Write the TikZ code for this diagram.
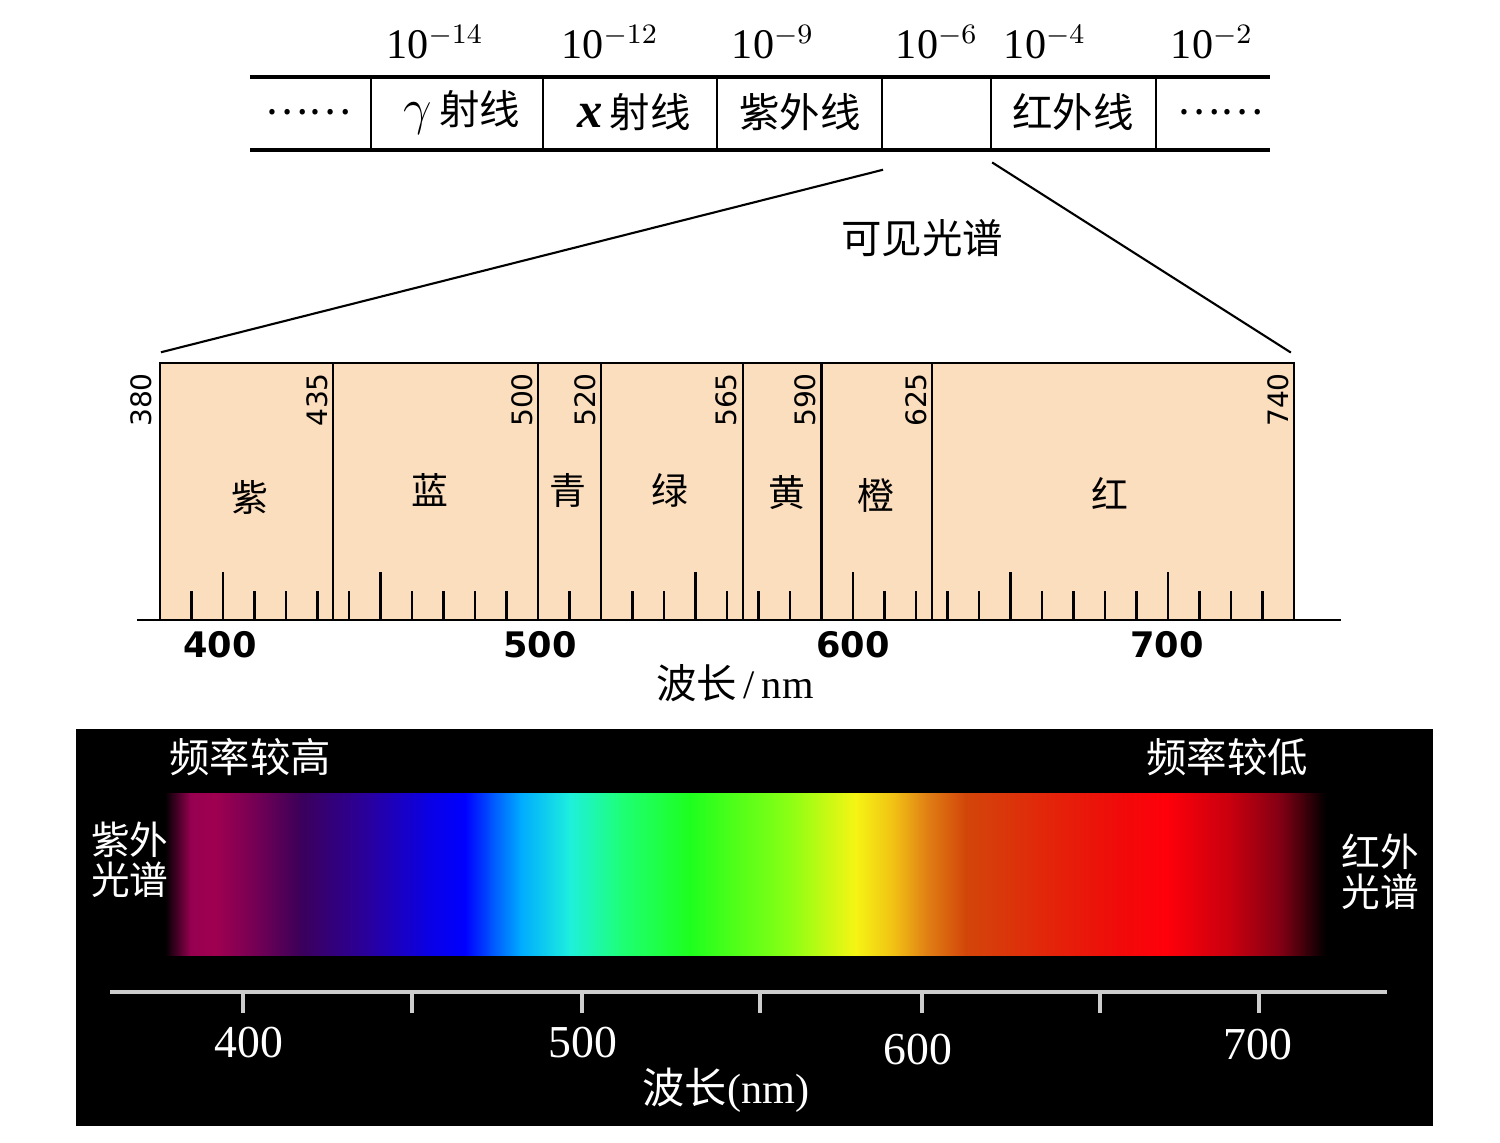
\documentclass[tikz,border=0pt]{standalone}
\usepackage{fontspec}
\setmainfont{Liberation Serif}
\setsansfont{DejaVu Sans}
\newfontfamily\cjk{Noto Sans CJK SC}
\definecolor{peach}{RGB}{251,222,190}
\definecolor{axisgray}{RGB}{205,205,205}
\definecolor{sp0}{RGB}{0,0,0}
\definecolor{sp1}{RGB}{150,0,80}
\definecolor{sp2}{RGB}{160,0,80}
\definecolor{sp3}{RGB}{110,0,85}
\definecolor{sp4}{RGB}{60,0,90}
\definecolor{sp5}{RGB}{40,0,160}
\definecolor{sp6}{RGB}{10,0,230}
\definecolor{sp7}{RGB}{0,0,255}
\definecolor{sp8}{RGB}{0,80,255}
\definecolor{sp9}{RGB}{0,170,255}
\definecolor{sp10}{RGB}{30,240,220}
\definecolor{sp11}{RGB}{30,255,120}
\definecolor{sp12}{RGB}{30,255,30}
\definecolor{sp13}{RGB}{140,255,20}
\definecolor{sp14}{RGB}{245,245,20}
\definecolor{sp15}{RGB}{240,190,20}
\definecolor{sp16}{RGB}{225,130,20}
\definecolor{sp17}{RGB}{210,70,10}
\definecolor{sp18}{RGB}{225,40,10}
\definecolor{sp19}{RGB}{240,10,10}
\definecolor{sp20}{RGB}{255,0,10}
\definecolor{sp21}{RGB}{200,0,15}
\definecolor{sp22}{RGB}{130,0,20}
\definecolor{sp23}{RGB}{60,0,10}

\begin{document}
\begin{tikzpicture}[x=0.01cm,y=-0.01cm,line cap=rect,
  cell/.style={font=\cjk\fontsize{11.5}{14}\selectfont},
  expo/.style={font=\fontsize{12}{14}\selectfont},
  colname/.style={font=\cjk\fontsize{10.5}{12}\selectfont},
  vnum/.style={rotate=90,font=\sffamily\fontsize{8}{9}\selectfont},
  axnum/.style={font=\sffamily\bfseries\fontsize{10}{12}\selectfont},
  wtext/.style={text=white,font=\cjk\fontsize{11.5}{14}\selectfont},
  wnum/.style={text=white,font=\fontsize{13}{15}\selectfont}]
\useasboundingbox (0,0) rectangle (1500,1142);

% electromagnetic band
\draw[line width=1.1pt] (252,77) -- (1268,77) (252,150) -- (1268,150);
\foreach \x in {371,543,717,882,991,1156}
  \draw[line width=0.6pt] (\x,77) -- (\x,150);
\node[expo] (e1) at (435,42) {10$^{-14}$};
\node[expo] (e2) at (610,42) {10$^{-12}$};
\node[expo] (e3) at (773,42) {10$^{-9}$};
\node[expo] (e4) at (937,42) {10$^{-6}$};
\node[expo] (e5) at (1045,42) {10$^{-4}$};
\node[expo] (e6) at (1212,42) {10$^{-2}$};
\node[cell] (c1) at (308,112) {……};
\node[cell] (c2) at (462,112) {{\rmfamily\Large$\gamma$}\,射线};
\node[cell] (c3) at (634,112) {{\rmfamily\bfseries\itshape\Large x}\,射线};
\node[cell] (c4) at (800,112) {紫外线};
\node[cell] (c5) at (1073,112) {红外线};
\node[cell] (c6) at (1220,112) {……};

% zoom lines
\coordinate (z1) at (882,170);
\coordinate (z2) at (162,352);
\coordinate (z3) at (993,163);
\coordinate (z4) at (1290,352);
\draw[line width=0.6pt] (z1) -- (z2);
\draw[line width=0.6pt] (z3) -- (z4);
\node[cell] (vis) at (922,238) {可见光谱};

% visible colour table
\fill[peach] (160,363) rectangle (1294,620);
\draw[line width=0.7pt] (160,620) -- (160,363) -- (1294,363) -- (1294,620);
\draw[line width=0.7pt] (138,620) -- (1340,620);
\foreach \w in {435,500,520,565,590,625}
  \draw[line width=0.6pt] ({160+(\w-380)*3.15},363) -- ({160+(\w-380)*3.15},620);
\foreach \w in {390,400,...,730}{
  \pgfmathsetmacro{\h}{mod(\w,50)==0 ? 47 : 28}
  \draw[line width=0.6pt] ({160+(\w-380)*3.15},620) -- ({160+(\w-380)*3.15},{620-\h});
}
\node[vnum] (n380) at (141,400) {380};
\foreach \w in {435,500,520,565,590,625,740}
  \node[vnum] (n\w) at ({160+(\w-380)*3.15-16},400) {\w};
\node[colname] (k1) at (250,497) {紫};
\node[colname] (k2) at (430,490) {蓝};
\node[colname] (k3) at (568,490) {青};
\node[colname] (k4) at (670,490) {绿};
\node[colname] (k5) at (787,493) {黄};
\node[colname] (k6) at (876,495) {橙};
\node[colname] (k7) at (1110,493) {红};
\node[axnum] (a400) at (220,645) {400};
\node[axnum] (a500) at (540,645) {500};
\node[axnum] (a600) at (853,645) {600};
\node[axnum] (a700) at (1167,645) {700};
\node[cell] (lam) at (735,683) {波长{\rmfamily\,/\,nm}};

% spectrum on black
\fill[black] (76,729) rectangle (1433,1126);
\foreach \xa/\ca/\xb/\cb in {165/sp0/190/sp1,190/sp1/215/sp2,215/sp2/260/sp3,
    260/sp3/300/sp4,300/sp4/370/sp5,370/sp5/430/sp6,430/sp6/465/sp7,
    465/sp7/490/sp8,490/sp8/520/sp9,520/sp9/570/sp10,570/sp10/620/sp11,
    620/sp11/690/sp12,690/sp12/790/sp13,790/sp13/855/sp14,855/sp14/895/sp15,
    895/sp15/925/sp16,925/sp16/965/sp17,965/sp17/1040/sp18,1040/sp18/1120/sp19,
    1120/sp19/1165/sp20,1165/sp20/1230/sp21,1230/sp21/1280/sp22,
    1280/sp22/1305/sp23,1305/sp23/1325/sp0}
  \shade[left color=\ca,right color=\cb] (\xa,793) rectangle ({\xb+0.8},955);
\node[wtext] (hi) at (250,757) {频率较高};
\node[wtext] (lo) at (1227,757) {频率较低};
\node[wtext,font=\cjk\fontsize{11}{11.5}\selectfont,align=center] (uv) at (130,860) {紫外\\光谱};
\node[wtext,font=\cjk\fontsize{11}{11.5}\selectfont,align=center] (ir) at (1380,872) {红外\\光谱};
\draw[axisgray,line width=1.2pt] (112,992) -- (1385,992);
\foreach \x in {243,412,582,760,922,1100,1259}
  \draw[axisgray,line width=1.1pt] (\x,993) -- (\x,1011);
\node[wnum] (b400) at (249,1043) {400};
\node[wnum] (b500) at (583,1043) {500};
\node[wnum] (b600) at (918,1050) {600};
\node[wnum] (b700) at (1258,1045) {700};
\node[wtext,font=\cjk\fontsize{12}{14}\selectfont] (lam2) at (726,1090) {波长{\rmfamily(nm)}};
\end{tikzpicture}
\end{document}
